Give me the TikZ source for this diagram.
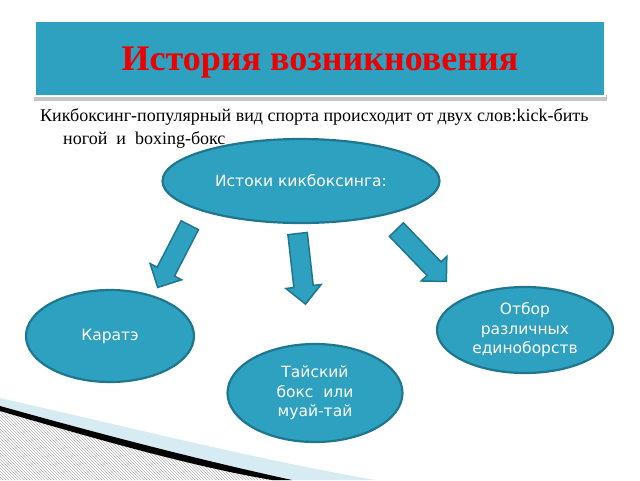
\documentclass[tikz,border=0pt]{standalone}
\usepackage{fontspec}
\setmainfont{Liberation Serif}
\newfontfamily\dejavu{DejaVu Sans}
\usetikzlibrary{shapes,shapes.geometric,shapes.arrows,patterns,positioning}
\definecolor{ovalfill}{RGB}{46,160,192}
\definecolor{ovalline}{RGB}{31,118,143}
\definecolor{paleblue}{RGB}{214,236,242}
\definecolor{titlered}{RGB}{236,0,0}

\tikzset{
  oval/.style={ellipse, draw=ovalline, fill=ovalfill, line width=2.2pt, text=white,
    font=\dejavu\fontsize{15.5}{19.5}\selectfont, align=center, inner sep=0pt},
  fatarrow/.style={single arrow, draw=ovalline, fill=ovalfill, line width=1.5pt,
    single arrow head extend=8pt, inner xsep=0pt, inner ysep=9pt}
}

\begin{document}
\begin{tikzpicture}[x = 1pt, y = -1pt]
\useasboundingbox (0,0) rectangle (640,480);

% swoosh in the corner
\fill[paleblue] (0,398) .. controls (120,425) and (250,458) .. (375,480) -- (0,480) -- cycle;
\fill[white] (0,410) .. controls (100,438) and (200,464) .. (280,480) -- (0,480) -- cycle;
\fill[pattern=north west lines, pattern color=gray!60] (0,410) .. controls (100,438) and (200,464) .. (280,480) -- (0,480) -- cycle;
\fill[black] (0,406) .. controls (100,434) and (200,460) .. (292,480) -- (272,480) .. controls (190,466) and (100,440) .. (0,411) -- cycle;

% title
\fill[gray!45] (34,95) rectangle (607,101);
\draw[white, line width=2pt, fill=ovalfill] (35,21) rectangle (605,96);
\node[text=titlered, font=\fontsize{36}{40}\bfseries\selectfont] (title) at (320,63) {История возникновения};

\node[anchor=west, inner sep=0pt, font=\fontsize{18}{21}\selectfont] (intro) at (40,117) {Кикбоксинг-популярный вид спорта происходит от двух слов:kick-бить};
\node[anchor=west, inner sep=0pt, font=\fontsize{18}{21}\selectfont] (introcont) at (63,140) {ногой\ \ и\ \ boxing-бокс};

\node[oval, minimum width=277pt, minimum height=84pt] (origin) at (301,181) {Истоки кикбоксинга:};
\node[oval, minimum width=168pt, minimum height=92pt] (karate) at (110,336) {Каратэ};
\node[oval, minimum width=176pt, minimum height=86pt] (selection) at (525,330) {Отбор\\различных\\единоборств};
\node[oval, minimum width=175pt, minimum height=98pt] (thai) at (315,393) {Тайский\\бокс\ \ или\\муай-тай};

\node[fatarrow, minimum height=70pt, rotate=-117.3] (toKarate) at (176,252) {};
\node[fatarrow, minimum height=71pt, rotate=-83.6] (toThai) at (301,264) {};
\node[fatarrow, minimum height=72pt, rotate=-46.1] (toSelection) at (418,252) {};

\end{tikzpicture}
\end{document}
